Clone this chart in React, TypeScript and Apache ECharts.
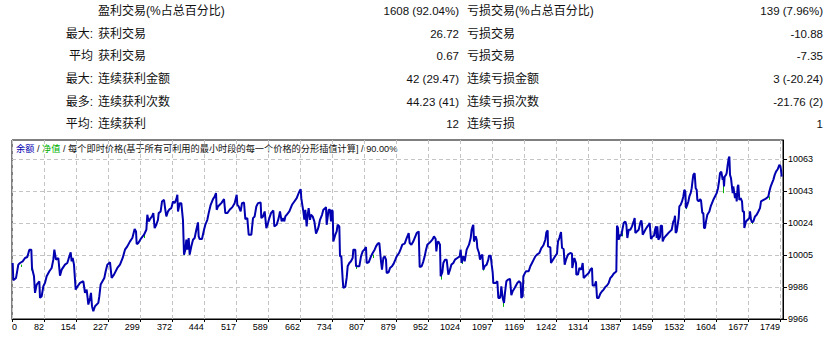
import React, { useEffect, useRef } from 'react';
import * as echarts from 'echarts';

// ---- statistics table ----
const ROW_PREFIX = ['', '最大:', '平均', '最大:', '最多:', '平均:'];
const WIN_LABELS = ['盈利交易(%占总百分比)', '获利交易', '获利交易', '连续获利金额', '连续获利次数', '连续获利'];
const WIN_VALUES = ['1608 (92.04%)', '26.72', '0.67', '42 (29.47)', '44.23 (41)', '12'];
const LOSS_LABELS = ['亏损交易(%占总百分比)', '亏损交易', '亏损交易', '连续亏损金额', '连续亏损次数', '连续亏损'];
const LOSS_VALUES = ['139 (7.96%)', '-10.88', '-7.35', '3 (-20.24)', '-21.76 (2)', '1'];

// ---- chart title ----
const TITLE_BALANCE = '余额';
const TITLE_EQUITY = '净值';
const TITLE_REST = '每个即时价格(基于所有可利用的最小时段的每一个价格的分形插值计算]';
const TITLE_PCT = '90.00%';

// ---- balance curve (trade number, balance) ----
const BAL_X = [
  11, 12.5, 18.6, 23.8, 27.6, 33.7, 39, 44.2, 48.8, 53.3, 54.8, 59.3, 61.6, 65.4, 71.4, 72.9, 76.7, 80.5, 84.2, 88,
  94.1, 99.3, 103.1, 105.4, 109.2, 114.4, 118.2, 122, 129.5, 134.8, 139.4, 142.4, 144.6, 146.9, 149.9, 153.7, 158.2, 163.5, 171.1, 174.8,
  178.6, 182.4, 186.2, 188.4, 190.7, 193.7, 197.5, 205, 207.3, 210.3, 218.6, 221.7, 225.4, 231.5, 235.2, 240.5, 248.1, 254.1, 260.2, 265.4,
  270.7, 276.8, 282.1, 287.3, 290.4, 291.9, 295.6, 302.4, 308.5, 313.8, 316, 319, 323.6, 326.6, 329.6, 332.6, 336.4, 340.2, 341.7, 346.2,
  349.3, 353.8, 356.8, 359.1, 362.8, 366.6, 370.4, 374.2, 377.9, 381.7, 384, 385.5, 389.3, 393, 396.8, 399.1, 402.1, 404.4, 406.6, 409.7,
  411.9, 415.7, 419.5, 423.2, 427, 430.8, 432.3, 434.6, 439.8, 444.4, 447.4, 451.9, 455, 459.5, 464.8, 468.5, 471.6, 473.1, 476.1, 479.9,
  483.6, 489.7, 492.7, 497.2, 502.5, 508.6, 513.8, 518.4, 519.9, 522.9, 527.4, 530.4, 535, 538, 542.5, 545.6, 551.6, 555.4, 559.1, 562.9,
  566.7, 572.7, 574.2, 578, 581.8, 585.6, 589.3, 592.4, 596.1, 601.4, 603.7, 609, 613.5, 616.5, 620.3, 624.1, 626.3, 628.6, 631.6, 637.7,
  643.7, 649, 654.3, 660.3, 663.3, 664.8, 666.4, 669.4, 671.6, 673.9, 676.9, 679.2, 681.4, 684.5, 686.7, 690.5, 694.3, 698.1, 701.8, 704.1,
  707.1, 711.7, 714.7, 719.2, 720.7, 722.2, 726.7, 729.8, 732, 734.3, 735.8, 737.3, 741.8, 744.9, 747.1, 750.9, 752.4, 755.4, 758.5, 760,
  764.5, 767.5, 769.8, 773.6, 777.3, 781.1, 782.6, 787.1, 788.7, 790.9, 796.2, 800, 803.8, 807.5, 811.3, 812.8, 817.4, 822.6, 826.4, 830.9,
  834, 837.7, 841.5, 845.3, 847.5, 850.6, 853.6, 856.6, 858.1, 862.6, 865.7, 870.2, 874, 877.8, 880.8, 886.1, 889.8, 893.6, 898.9, 903.4,
  908, 910.2, 914, 918.5, 921.5, 926.1, 930.6, 932.9, 937.4, 941.2, 944.2, 946.5, 950.2, 956.3, 961.6, 965.3, 969.1, 970.6, 972.9, 975.1,
  978.9, 980.4, 984.2, 986.5, 990.2, 994, 997.8, 1001.6, 1004.6, 1009.1, 1012.9, 1018.2, 1023.5, 1025.7, 1028, 1030.3, 1031.8, 1034.8, 1039.3, 1044.6,
  1048.4, 1050.6, 1052.9, 1054.4, 1055.9, 1059.7, 1062, 1063.5, 1067.3, 1069.5, 1072.5, 1074.8, 1077.1, 1080.1, 1084.6, 1088.4, 1089.9, 1093.7, 1096, 1098.2,
  1099.7, 1105, 1108.8, 1111, 1114.8, 1116.3, 1117.8, 1120.9, 1123.9, 1126.1, 1129.2, 1132.9, 1137.5, 1140.5, 1143.5, 1148, 1154.1, 1157.9, 1161.6, 1163.1,
  1166.2, 1167.7, 1170.7, 1173.7, 1179.8, 1183.5, 1187.3, 1191.1, 1194.9, 1198.6, 1203.9, 1208.4, 1211.5, 1213.7, 1217.5, 1219.8, 1222.8, 1223.5, 1228.8, 1230.3,
  1234.1, 1238.6, 1243.9, 1246.2, 1249.2, 1253, 1255.3, 1259, 1261.3, 1264.3, 1268.8, 1274.1, 1277.9, 1278.5, 1280.2, 1283.2, 1287, 1287.7, 1291.5, 1294.5,
  1299, 1302.1, 1304.3, 1308.1, 1311.9, 1315.7, 1319.4, 1323.2, 1324.7, 1329.2, 1332.3, 1334.5, 1338.3, 1342.1, 1345.9, 1349.6, 1353.4, 1357.2, 1361, 1364.7,
  1368.5, 1372.3, 1376.1, 1378.3, 1379.8, 1382.1, 1383.6, 1387.4, 1389.6, 1392, 1394.9, 1398.7, 1401, 1403.2, 1406.3, 1410, 1413.8, 1417.6, 1419.8, 1421.4,
  1428.9, 1432.7, 1435, 1436.5, 1438, 1440.2, 1444, 1447.8, 1451.5, 1453.8, 1456.8, 1460.6, 1463.6, 1465.9, 1468.2, 1469.7, 1471.2, 1473.5, 1477.2, 1478.7,
  1481.8, 1483.3, 1486.3, 1490.8, 1496.1, 1499.9, 1503.7, 1507.4, 1509.7, 1511.2, 1512.7, 1515, 1517.2, 1519.5, 1521, 1524, 1527.1, 1530.1, 1532.3, 1534.6,
  1536.1, 1539.1, 1541.4, 1543.7, 1546.7, 1549, 1551.2, 1552.7, 1555.7, 1558, 1560.3, 1561.8, 1564.8, 1567.8, 1570.1, 1573.1, 1575.4, 1576.9, 1579.1, 1581.4,
  1584.4, 1589, 1592, 1595, 1598, 1601.8, 1605.6, 1608.6, 1610.9, 1613.1, 1616.1, 1619.2, 1620.7, 1622.2, 1623.7, 1626.7, 1628.2, 1630.5, 1632.8, 1634.3,
  1635.8, 1638, 1641.8, 1643.3, 1647.1, 1649.4, 1650.9, 1653.1, 1654.6, 1656.9, 1659.9, 1663, 1664.5, 1667.5, 1668.2, 1672, 1675.8, 1679.6, 1681.1, 1683.3,
  1685.6, 1688.6, 1692.4, 1696.2, 1700, 1703.7, 1706, 1709.8, 1715, 1718.8, 1722.6, 1724.9, 1727.9, 1730.9, 1733.9, 1737, 1740, 1743.8, 1746, 1747.5,
  1749.8, 1751.3, 1752.8,
];
const BAL_Y = [
  10000, 9989.6, 9991, 9999, 10000, 10001, 10003, 10003.6, 10008, 10008, 9997, 9992, 9982, 9987, 9989, 9979, 9980, 9986, 9988, 9992,
  9995, 9997, 10002, 10008, 10002, 10003, 9992.4, 9996, 9999, 10000, 10004, 10006.4, 10001, 10003, 9999, 9984, 9986, 9988, 9989, 9982,
  9984, 9975, 9979, 9982, 9974, 9971, 9974, 9976, 9980, 9987, 9991, 9995, 9999, 10000.4, 9991, 9993, 9997, 9999, 10003, 10008,
  10010, 10013, 10015, 10020.4, 10019, 10011.4, 10012, 10015, 10017, 10020, 10029, 10025, 10027, 10028, 10030, 10021, 10023, 10026, 10030, 10031,
  10037, 10038, 10032, 10028, 10031, 10032.4, 10033, 10037, 10036, 10038.4, 10041, 10031, 10036, 10036, 10025.6, 10005, 10008, 10014, 10008, 10015,
  10005, 10010, 10014, 10015, 10020, 10024.4, 10016, 10014.4, 10014.4, 10020, 10023, 10026, 10030, 10035, 10038.4, 10040, 10042, 10032, 10034, 10035,
  10036, 10038.4, 10030, 10030, 10032, 10033.6, 10036, 10041, 10035, 10034, 10031, 10036, 10036.4, 10026.4, 10027, 10017, 10017, 10027, 10028, 10034,
  10036, 10036.4, 10027, 10028, 10031, 10021, 10024, 10027, 10030, 10031.6, 10022, 10023, 10027, 10031, 10025, 10027, 10025, 10028, 10029, 10031,
  10035, 10037, 10039, 10043, 10044.4, 10039, 10036, 10031, 10026, 10032, 10022, 10029, 10033, 10026, 10029, 10028, 10025, 10017.6, 10020, 10022,
  10026, 10029, 10032, 10033, 10033.6, 10023, 10032, 10032, 10025, 10032, 10031, 10013, 10017, 10019, 10023, 10022, 10004, 10004, 9990, 9985,
  9985.6, 9991, 9998, 10000, 10001, 10003, 10008, 10008, 9998, 9998, 9998, 10004, 10007, 10008, 10009.6, 10000, 10000.4, 10004, 10006, 10008,
  10010, 10011.6, 10012, 10001, 9996, 10003, 10004, 10002, 9994, 9994.4, 9997, 9998, 9999.6, 10002, 10004, 10006, 10008.4, 10011, 10011.6, 10015,
  10018, 10012, 10011, 10013, 10015, 10018, 10019, 9997.6, 9998, 10001, 10004, 10007, 10011, 10012.4, 10014, 10016, 10014.4, 10007, 10012, 10013,
  10011, 9992, 9994.4, 10000, 10002, 10002, 9993, 9996, 9999, 10000, 10002, 10003, 10004, 10008, 10000, 10003, 10004, 10001, 10008, 10011,
  10015, 10020, 10022, 10023, 10013, 10016, 10014, 10009, 10006, 10002, 10004.4, 10005, 9996, 9998, 9999, 10002, 10004.4, 10004.4, 9999, 9994.4,
  9988, 9988, 9989, 9979, 9979, 9981, 9986, 9979, 9976, 9982, 9989, 9990, 9990.4, 9980.6, 9983, 9985, 9988, 9989, 9988, 9979,
  9980, 9992, 9993.6, 9995, 9995, 9998, 10000, 10002, 10004, 10005, 10006, 10009, 10010, 10011, 10014, 10018.4, 10019.6, 10010, 10009.4, 10000,
  10001.6, 10003.6, 10005.6, 10013, 10015, 10018.6, 10009, 10008.4, 9999, 10002, 10005, 10006, 10005.6, 9997, 9999, 10003, 10000, 9993, 9993, 9997,
  9996, 10000, 9991, 9992, 9993, 9994, 9996, 9997, 9986.4, 9986.4, 9989, 9979, 9979, 9981.6, 9983, 9984, 9985.6, 9986.4, 9988, 9991,
  9992, 9993.6, 9994.4, 9995, 10022.4, 10021, 10014, 10017, 10016.4, 10020, 10024, 10025, 10023, 10015, 10020, 10020, 10022, 10025, 10027, 10018,
  10020, 10024.4, 10025.6, 10023, 10017, 10018, 10020, 10021.6, 10023, 10024, 10014.4, 10016, 10016.4, 10020, 10022, 10015, 10022, 10014, 10015.6, 10022.4,
  10022.4, 10013, 10015, 10016.4, 10018, 10019, 10020, 10025, 10026, 10028.4, 10018, 10019, 10023, 10027, 10034, 10035, 10037, 10040, 10044, 10043,
  10033, 10035, 10037, 10040, 10042, 10045, 10050, 10053, 10054, 10045, 10044, 10038, 10037, 10038.4, 10037.6, 10030, 10030, 10021, 10021, 10025,
  10029, 10031, 10034, 10036, 10038, 10040, 10042, 10045, 10049, 10054, 10055, 10050, 10052, 10046, 10052, 10053, 10054, 10059, 10063, 10064,
  10053, 10051, 10042, 10046, 10039, 10042, 10037, 10046, 10047, 10038, 10039, 10037, 10031, 10031, 10021, 10025, 10026, 10027, 10031, 10026,
  10024.4, 10025, 10028, 10029, 10031, 10033, 10037, 10037.6, 10038.4, 10039, 10040, 10043, 10046, 10048, 10050, 10053, 10055, 10056.4, 10058, 10059,
  10058.4, 10056, 10052,
];

// ---- equity dips (trade number, from balance, down to equity) ----
const EQ_X = [31, 54, 308.5, 359, 400, 412, 769.8, 788.7, 828, 981.9, 1029.5, 1055.9, 1077.1, 1123.1, 1392.6, 1536.1, 1620.7, 1646.3, 1686, 1724.9];
const EQ_HIGH = [9999, 9997, 10017, 10029, 10006, 10006, 9994, 9998, 10005, 9992.4, 10001, 10014, 9997, 9977, 10018, 10034, 10049, 10043, 10024.4, 10040];
const EQ_LOW = [9997.6, 9995.5, 10015, 10028, 10004.6, 10004.8, 9992.6, 9996.4, 10003, 9990, 9999.4, 10012.6, 9995.4, 9973.6, 10016, 10032.4, 10042, 10041, 10023.4, 10038];

// ---- axes ----
const X_MIN = 9.5;
const X_MAX = 1755.8;
const X_TICKS = [82, 154, 227, 299, 372, 444, 517, 589, 662, 734, 807, 879, 952, 1024, 1097, 1169, 1242, 1314, 1387, 1459, 1532, 1604, 1677, 1749];
const X_FIRST_LABEL = '0';
const Y_MIN = 9966.3;
const Y_MAX = 10073.98;
const Y_STEP = 19.25;
const Y_TICK_COUNT = 6;

const LATIN = "'Liberation Sans', 'Noto Sans CJK SC', sans-serif";
const BLUE = '#0000b0';
const GREEN = '#00b000';

export default function App() {
  const ref = useRef<HTMLDivElement>(null);
  useEffect(() => {
    if (!ref.current) return;
    const chart = echarts.init(ref.current, undefined, { renderer: 'svg', width: 832, height: 340 });

    const rowY = (i: number) => 11 + i * 22.67;
    const txt = (text: string, x: number, y: number, align: string, size: number) => ({
      type: 'text',
      x,
      y,
      silent: true,
      style: {
        text,
        fill: '#111',
        fontSize: size,
        fontFamily: LATIN,
        textAlign: align,
        align,
        textVerticalAlign: 'middle',
        verticalAlign: 'middle',
      },
    });
    const graphics: any[] = [];
    for (let i = 0; i < WIN_LABELS.length; i++) {
      const y = rowY(i);
      if (ROW_PREFIX[i]) graphics.push(txt(ROW_PREFIX[i], 93, y, 'right', 12));
      graphics.push(txt(WIN_LABELS[i], 98, y, 'left', 12));
      graphics.push(txt(WIN_VALUES[i], 459, y, 'right', 11.5));
      graphics.push(txt(LOSS_LABELS[i], 467, y, 'left', 12));
      graphics.push(txt(LOSS_VALUES[i], 823, y, 'right', 11.5));
    }
    graphics.push({
      type: 'text',
      x: 16,
      y: 149,
      silent: true,
      style: {
        text: `{b|${TITLE_BALANCE}} / {g|${TITLE_EQUITY}} / ${TITLE_REST} / ${TITLE_PCT}`,
        fill: '#111',
        fontSize: 9.2,
        fontFamily: LATIN,
        textVerticalAlign: 'middle',
        verticalAlign: 'middle',
        rich: {
          b: { fill: BLUE, color: BLUE, fontSize: 9.2, fontFamily: LATIN },
          g: { fill: GREEN, color: GREEN, fontSize: 9.2, fontFamily: LATIN },
        },
      },
    });

    const xTickVals = [X_MIN, ...X_TICKS];
    const yTickVals: number[] = [];
    for (let i = 0; i < Y_TICK_COUNT; i++) yTickVals.push(Y_MIN + i * Y_STEP);

    const balanceData = BAL_X.map((x, i) => [x, BAL_Y[i]]);
    const equityData = EQ_X.map((x, i) => ({ coords: [[x, EQ_HIGH[i]], [x, EQ_LOW[i]]] }));

    const axisFont = { fontSize: 9, color: '#000', fontFamily: LATIN };

    chart.setOption({
      animation: false,
      backgroundColor: '#ffffff',
      grid: {
        left: 12,
        top: 140,
        width: 771,
        height: 179,
        show: true,
        borderColor: '#000',
        borderWidth: 1,
        backgroundColor: 'transparent',
        containLabel: false,
        outerBoundsMode: 'none',
      },
      xAxis: [
        {
          type: 'value',
          min: X_MIN,
          max: X_MAX,
          position: 'bottom',
          axisLine: { show: true, lineStyle: { color: '#000', width: 1 } },
          axisTick: { show: true, length: 3, customValues: xTickVals, lineStyle: { color: '#000' } },
          axisLabel: {
            ...axisFont,
            customValues: xTickVals,
            align: 'right',
            margin: 3,
            hideOverlap: false,
            formatter: (v: number) => (v === X_MIN ? '' : String(Math.round(v))),
          },
          splitLine: { show: true, lineStyle: { type: [4, 3], color: '#c4c4c4', width: 1 } },
        },
        {
          type: 'value',
          min: X_MIN,
          max: X_MAX,
          position: 'bottom',
          axisLine: { show: false },
          axisTick: { show: false },
          splitLine: { show: false },
          axisLabel: {
            ...axisFont,
            customValues: [X_MIN],
            align: 'left',
            margin: 3,
            formatter: () => X_FIRST_LABEL,
          },
        },
      ],
      yAxis: {
        type: 'value',
        min: Y_MIN,
        max: Y_MAX,
        position: 'right',
        axisLine: { show: true, lineStyle: { color: '#000', width: 1 } },
        axisTick: { show: true, length: 4, customValues: yTickVals, lineStyle: { color: '#000' } },
        axisLabel: {
          ...axisFont,
          customValues: yTickVals,
          margin: 5,
          align: 'left',
          formatter: (v: number) => String(Math.round(v)),
        },
        splitLine: { show: true, lineStyle: { type: [4, 3], color: '#c4c4c4', width: 1 } },
      },
      graphic: graphics,
      series: [
        {
          type: 'lines',
          coordinateSystem: 'cartesian2d',
          xAxisIndex: 0,
          yAxisIndex: 0,
          data: equityData,
          lineStyle: { color: GREEN, width: 1, opacity: 1 },
          effect: { show: false },
          silent: true,
        },
        {
          type: 'line',
          xAxisIndex: 0,
          yAxisIndex: 0,
          data: balanceData,
          showSymbol: false,
          symbol: 'none',
          lineStyle: { color: BLUE, width: 2 },
          silent: true,
        },
      ],
    });
    return () => chart.dispose();
  }, []);
  return (
    <div
      ref={ref}
      style={{ position: 'fixed', left: 0, top: 0, width: 832, height: 340, background: '#fff' }}
    />
  );
}
